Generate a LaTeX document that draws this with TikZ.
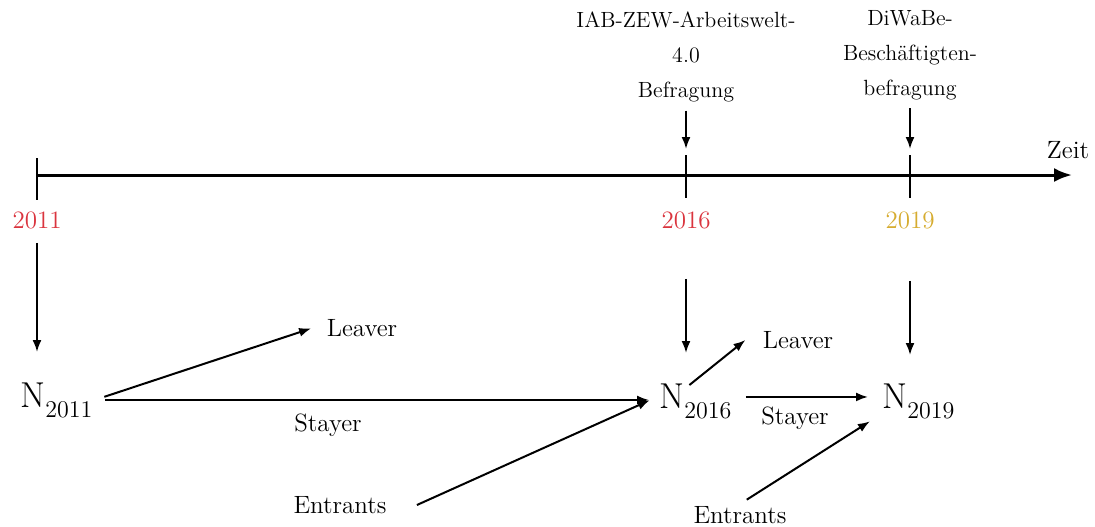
\documentclass[tikz,border=0pt]{standalone}
\usepackage{xcolor}
\usetikzlibrary{arrows.meta, positioning}
\definecolor{yearred}{RGB}{218,52,62}
\definecolor{yeargold}{RGB}{214,172,48}
\newcommand{\popN}[1]{N\raisebox{-5pt}{\fontsize{12}{14}\selectfont #1}}

\begin{document}
\begin{tikzpicture}[
        x=0.5pt, y=-0.5pt,
        every node/.style={inner sep=1pt, font=\fontsize{12.5}{15}\selectfont},
        year/.style={font=\fontsize{12.5}{15}\selectfont},
        survey/.style={align=center, font=\fontsize{11}{17.5}\selectfont},
        pop/.style={font=\fontsize{18}{20}\selectfont, anchor=base west, inner sep=1pt},
        flow/.style={draw, line width=1pt, -{Latex[length=6pt, width=4.5pt]}},
        timeaxis/.style={draw, line width=1.5pt, -{Latex[length=9pt, width=7pt]}},
        tickmark/.style={draw, line width=1pt}
        ]
        \useasboundingbox (0,0) rectangle (1095,526);

        % time line with ticks
        \coordinate (k2011) at (37,158);
        \coordinate (k2016) at (686,155);
        \coordinate (k2019) at (910,155);
        \coordinate (tend) at (1072,175);
        \draw[timeaxis] (37,175) -- (tend);
        \draw[tickmark] (k2011) -- ++(0,42);
        \draw[tickmark] (k2016) -- ++(0,43);
        \draw[tickmark] (k2019) -- ++(0,43);
        \node (zeit) at (1068,150) {Zeit};

        % surveys
        \node[survey] (iab) at (686,57) {IAB-ZEW-Arbeitswelt-\\4.0\\Befragung};
        \node[survey] (diwabe) at (910,55) {DiWaBe-\\Beschäftigten-\\befragung};
        \draw[flow, shorten <=3pt, shorten >=3pt] (iab.south) -- (k2016);
        \draw[flow, shorten <=3pt, shorten >=3pt] (diwabe.south) -- (k2019);

        % years
        \node[year, text=yearred] (y2011) at (37,220) {2011};
        \node[year, text=yearred] (y2016) at (686,220) {2016};
        \node[year, text=yeargold] (y2019) at (910,220) {2019};

        % populations
        \node[pop] (n2011) at (18,407) {\popN{2011}};
        \node[pop] (n2016) at (657,408) {\popN{2016}};
        \node[pop] (n2019) at (880,408) {\popN{2019}};

        \draw[flow, shorten <=6pt, shorten >=14pt] (y2011.south) -- (y2011.south |- n2011.north);
        \draw[flow, shorten <=24pt, shorten >=14pt] (y2016.south) -- (y2016.south |- n2016.north);
        \draw[flow, shorten <=25pt, shorten >=13pt] (y2019.south) -- (y2019.south |- n2019.north);

        % flows 2011 -> 2016
        \node (leaverA) at (362,328) {Leaver};
        \node (stayerA) at (328,425) {Stayer};
        \node (entrantsA) at (340,505) {Entrants};
        \draw[flow, shorten <=5pt, shorten >=7pt] (n2011.east) -- ([yshift=2pt]leaverA.west);
        \draw[flow, shorten <=5pt, shorten >=4pt] (n2011.east) -- (n2011.east -| n2016.west);
        \draw[flow, shorten >=4pt] ([xshift=14pt]entrantsA.east) -- ([yshift=2pt]n2016.west);

        % flows 2016 -> 2019
        \node (leaverB) at (798,340) {Leaver};
        \node (stayerB) at (795,418) {Stayer};
        \node (entrantsB) at (740,515) {Entrants};
        \draw[flow] ([xshift=-3pt, yshift=-2pt]n2016.north) -- ([xshift=-7.5pt]leaverB.west);
        \draw[flow, shorten <=6pt, shorten >=6pt] ([yshift=2pt]n2016.east) -- ([yshift=2pt]n2016.east -| n2019.west);
        \draw[flow, shorten <=4pt, shorten >=6pt] (entrantsB.north) -- ([yshift=3pt]n2019.south west);
    \end{tikzpicture}
\end{document}
